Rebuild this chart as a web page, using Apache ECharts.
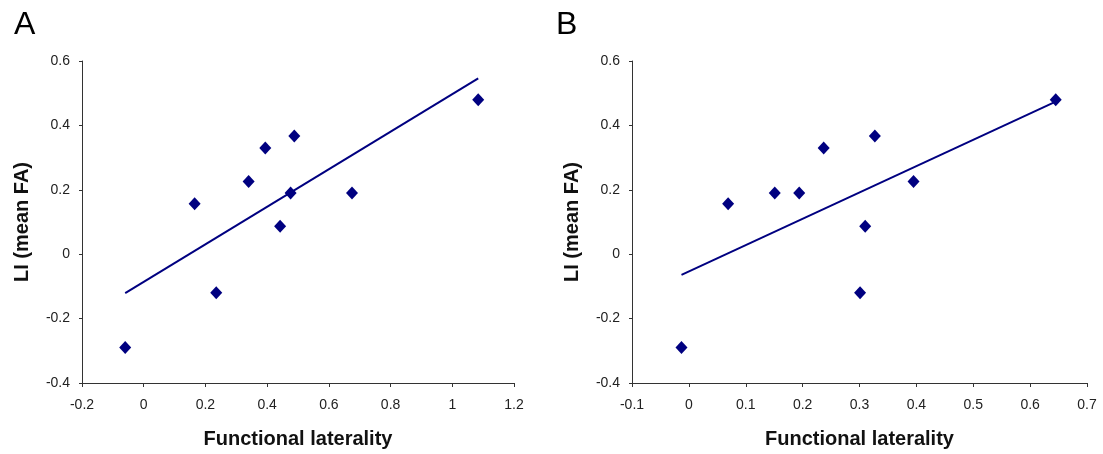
<!DOCTYPE html>
<html>
<head>
<meta charset="utf-8">
<title>LI vs functional laterality</title>
<script src="https://cdn.jsdelivr.net/npm/echarts@6/dist/echarts.min.js"></script>
<style>
  html, body { margin: 0; padding: 0; background: #fff; }
  #chart { width: 1103px; height: 454px; }
</style>
</head>
<body>
<div id="chart"></div>
<script>
// panel A: functional laterality vs LI (mean FA)
const pointsA = [
  [-0.06, -0.29], [0.165, 0.157], [0.235, -0.12], [0.34, 0.226], [0.394, 0.33],
  [0.488, 0.367], [0.476, 0.19], [0.442, 0.087], [0.675, 0.19], [1.084, 0.48]
];
const trendA = [[-0.06, -0.121], [1.084, 0.546]];

// panel B
const pointsB = [
  [-0.013, -0.29], [0.069, 0.157], [0.151, 0.19], [0.194, 0.19], [0.237, 0.33],
  [0.31, 0.087], [0.301, -0.12], [0.327, 0.367], [0.395, 0.226], [0.645, 0.48]
];
const trendB = [[-0.013, -0.064], [0.645, 0.474]];

const navy = '#000080';
const font = 'Liberation Sans, Arial, sans-serif';

const chart = echarts.init(document.getElementById('chart'));

function xAxis(idx, min, max, interval) {
  return {
    type: 'value', gridIndex: idx, min: min, max: max, interval: interval,
    name: 'Functional laterality', nameLocation: 'middle', nameGap: 46,
    nameTextStyle: { fontFamily: font, fontSize: 20, fontWeight: 'bold', color: '#111' },
    axisLine: { show: true, onZero: false, lineStyle: { color: '#333', width: 1 } },
    axisTick: { show: true, length: 4, lineStyle: { color: '#333' } },
    axisLabel: { fontFamily: font, fontSize: 14, color: '#222', margin: 15 },
    splitLine: { show: false }
  };
}

function yAxis(idx) {
  return {
    type: 'value', gridIndex: idx, min: -0.4, max: 0.6, interval: 0.2,
    name: 'LI (mean FA)', nameLocation: 'middle', nameGap: 50,
    nameTextStyle: { fontFamily: font, fontSize: 20, fontWeight: 'bold', color: '#111' },
    axisLine: { show: true, onZero: false, lineStyle: { color: '#333', width: 1 } },
    axisTick: { show: true, length: 3, lineStyle: { color: '#333' } },
    axisLabel: { fontFamily: font, fontSize: 14, color: '#222', margin: 12 },
    splitLine: { show: false }
  };
}

function scatter(idx, data) {
  return {
    type: 'scatter', xAxisIndex: idx, yAxisIndex: idx, data: data,
    symbol: 'diamond', symbolSize: [12, 13],
    itemStyle: { color: navy, opacity: 1 }, z: 3
  };
}

function trend(idx, data) {
  return {
    type: 'line', xAxisIndex: idx, yAxisIndex: idx, data: data,
    showSymbol: false, lineStyle: { color: navy, width: 2 }, z: 2
  };
}

chart.setOption({
  animation: false,
  backgroundColor: '#fff',
  textStyle: { fontFamily: font },
  grid: [
    { left: 82, top: 61, width: 432, height: 324 },
    { left: 632, top: 61, width: 455, height: 324 }
  ],
  xAxis: [xAxis(0, -0.2, 1.2, 0.2), xAxis(1, -0.1, 0.7, 0.1)],
  yAxis: [yAxis(0), yAxis(1)],
  series: [
    trend(0, trendA), scatter(0, pointsA),
    trend(1, trendB), scatter(1, pointsB)
  ],
  graphic: [
    { type: 'text', left: 14, top: 9, style: { text: 'A', font: '32px ' + font, fill: '#000' } },
    { type: 'text', left: 556, top: 9, style: { text: 'B', font: '32px ' + font, fill: '#000' } }
  ]
});
</script>
</body>
</html>
